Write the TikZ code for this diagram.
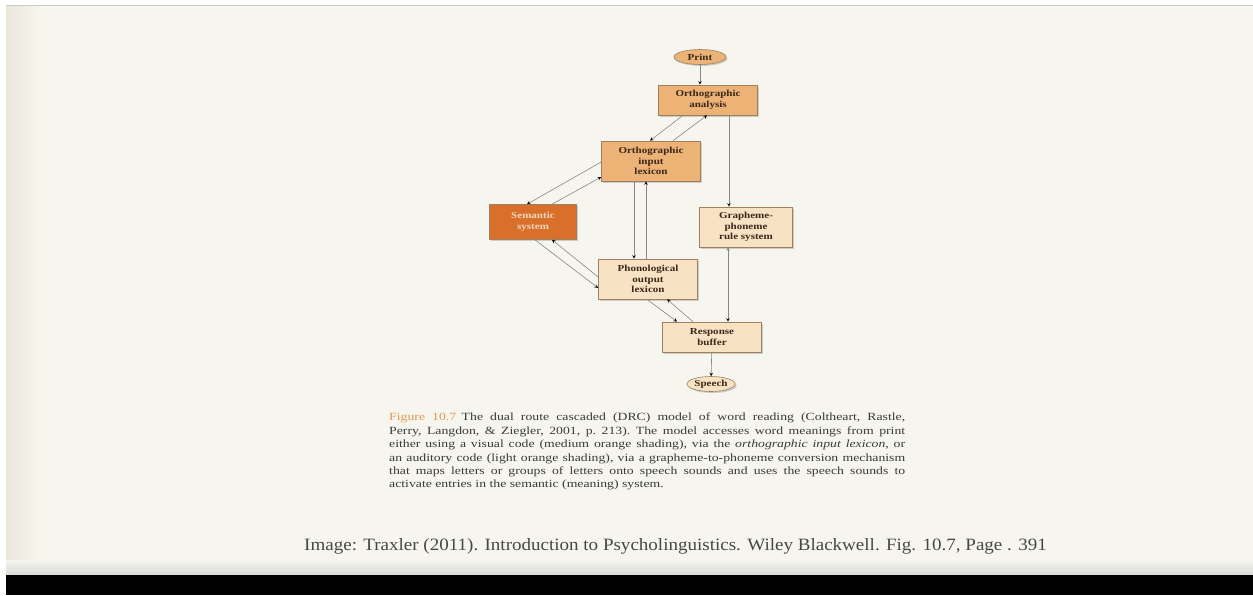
\documentclass[tikz,border=0pt]{standalone}
\usepackage{fontspec}
\setmainfont{Liberation Serif}
\newfontfamily\figfont[FakeStretch=1.2,Ligatures=TeX]{Liberation Serif}
\newfontfamily\capfont[FakeStretch=1.25,Ligatures=TeX]{Liberation Serif}
\newfontfamily\creditfont[FakeStretch=1.1,Ligatures=TeX]{Liberation Serif}
\usetikzlibrary{shapes.geometric,shadows}

\definecolor{bgcream}{RGB}{246,246,238}
\definecolor{bgedge}{RGB}{236,230,218}
\definecolor{midorange}{RGB}{236,178,118}
\definecolor{lightorange}{RGB}{247,226,196}
\definecolor{darkorange}{RGB}{216,112,44}
\definecolor{boxline}{RGB}{160,128,96}
\definecolor{wiregray}{RGB}{135,135,135}
\definecolor{textbrown}{RGB}{60,40,25}
\definecolor{semtext}{RGB}{246,214,186}
\definecolor{captext}{RGB}{58,58,58}
\definecolor{figorange}{RGB}{232,150,80}

\tikzset{
  stage/.style={draw=boxline, line width=0.6pt, fill=midorange, align=center,
    minimum width=99pt, inner sep=1pt, text=textbrown,
    font=\figfont\bfseries\fontsize{9.2}{10.5}\selectfont,
    drop shadow={shadow xshift=1.5pt, shadow yshift=-1.5pt, opacity=0.35}},
  terminal/.style={stage, ellipse, minimum width=52pt, minimum height=15pt, inner sep=0pt},
  wire/.style={draw=wiregray, line width=0.6pt}
}

\begin{document}
\begin{tikzpicture}[x=1pt,y=-1pt]
  \useasboundingbox (0,0) rectangle (1253,595);
  % slide background
  \fill[white] (0,0) rectangle (1253,595);
  \fill[bgcream] (6,6) rectangle (1253,575);
  \shade[left color=bgedge, right color=bgcream] (6,6) rectangle (40,575);
  \shade[top color=bgcream, bottom color=black!15] (6,560) rectangle (1253,575);
  \draw[black!20, line width=1pt] (6,5.5) -- (1253,5.5);
  \fill[black] (6,575) rectangle (1253,595);

  % model
  \node[terminal]                                  (print)  at (700,57)  {Print};
  \node[stage, minimum height=30pt]                (orthan) at (708,100) {Orthographic\\analysis};
  \node[stage, minimum height=40pt]                (orthin) at (651,161) {Orthographic\\input\\lexicon};
  \node[stage, minimum width=87pt, minimum height=35pt,
        fill=darkorange, text=semtext]             (sem)    at (533,222) {Semantic\\system};
  \node[stage, fill=lightorange, minimum width=93pt,
        minimum height=40pt]                       (gpc)    at (746,227) {Grapheme-\\phoneme\\rule system};
  \node[stage, fill=lightorange, minimum height=40pt] (phon) at (648,279) {Phonological\\output\\lexicon};
  \node[stage, fill=lightorange, minimum height=30pt] (resp) at (712,337) {Response\\buffer};
  \node[terminal, fill=lightorange, minimum width=48pt] (speech) at (711,384) {Speech};

  \path[-stealth, wire]
    (print)                         edge (print |- orthan.north)
    ([xshift=-25pt]orthan.south)    edge ([xshift=-1pt]orthin.north)
    ([xshift=22pt]orthin.north)     edge ([xshift=-1pt]orthan.south)
    ([xshift=21pt]orthan.south)     edge ([xshift=21pt]orthan.south |- gpc.north)
    ([yshift=-1pt]orthin.west)      edge ([xshift=-6pt]sem.north)
    ([xshift=19pt]sem.north)        edge ([yshift=-16pt]orthin.west)
    ([xshift=-17pt]orthin.south)    edge ([xshift=-17pt]orthin.south |- phon.north)
    ([xshift=-5pt]orthin.south |- phon.north) edge ([xshift=-5pt]orthin.south)
    ([yshift=2pt]phon.west)         edge ([xshift=19pt]sem.south)
    ([xshift=2pt]sem.south)         edge ([yshift=-9pt]phon.west)
    ([xshift=-1pt]phon.south)       edge ([xshift=-35pt]resp.north)
    ([xshift=-19pt]resp.north)      edge ([xshift=19pt]phon.south)
    ([xshift=-18pt]gpc.south)       edge ([xshift=-18pt]gpc.south |- resp.north)
    (resp)                          edge (speech)
  ;

  % caption and credit
  \node[anchor=north west, inner sep=0pt, text width=516pt, align=justify, text=captext,
        font=\capfont\fontsize{11}{13.4}\selectfont\frenchspacing] (caption) at (389,413)
    {{\color{figorange}Figure 10.7}\enspace The dual route cascaded (DRC) model of word reading (Coltheart, Rastle,\linebreak
     Perry, Langdon, \& Ziegler, 2001, p. 213). The model accesses word meanings from print\linebreak
     either using a visual code (medium orange shading), via the \textit{orthographic input lexicon}, or\linebreak
     an auditory code (light orange shading), via a grapheme-to-phoneme conversion mechanism\linebreak
     that maps letters or groups of letters onto speech sounds and uses the speech sounds to\linebreak
     activate entries in the semantic (meaning) system.};
  \node[anchor=base west, inner sep=0pt, text=black!72,
        font=\creditfont\fontsize{17.3}{20}\selectfont] (credit) at (304,550)
    {Image: Traxler (2011). Introduction to Psycholinguistics. Wiley Blackwell. Fig. 10.7, Page . 391};
\end{tikzpicture}
\end{document}
